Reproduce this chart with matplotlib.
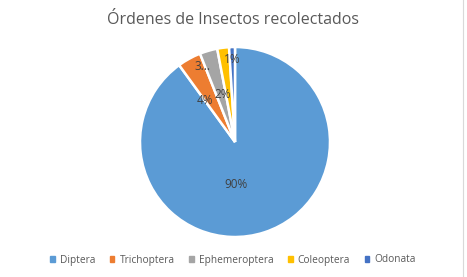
import matplotlib.pyplot as plt
import numpy as np

# Data
orders = ['Diptera', 'Trichoptera', 'Ephemeroptera', 'Coleoptera', 'Odonata']
values = [90, 4, 3, 2, 1]
labels = ['90%', '4%', '3...', '2%', '1%']
colors = ['#5B9BD5', '#ED7D31', '#A5A5A5', '#FFC000', '#4472C4']

plt.rcParams['font.family'] = ['Open Sans', 'DejaVu Sans']

fig = plt.figure(figsize=(4.67, 2.77), dpi=100)
ax = fig.add_axes([0.0, 0.0, 1.0, 1.0])

# pie placed in pixel coordinates (y measured from bottom)
cx, cy, r = 235, 277 - 142, 95
wedges, _ = ax.pie(values, colors=colors, startangle=90, counterclock=False,
                   center=(cx, cy), radius=r, frame=True,
                   wedgeprops=dict(edgecolor='white', linewidth=1.8))
ax.set_xlim(0, 467)
ax.set_ylim(0, 277)
ax.set_aspect('equal')
ax.axis('off')

# label positions (fraction of radius, angle offset in degrees)
dists = [0.45, 0.54, 0.86, 0.52, 0.87]
offsets = [-16, 7, 7, 7, 0]
total = sum(values)
cum = 0
for v, lab, d, off in zip(values, labels, dists, offsets):
    mid = 90 - (cum + v / 2) / total * 360 + off
    cum += v
    a = np.deg2rad(mid)
    ax.text(cx + d * r * np.cos(a), cy + d * r * np.sin(a), lab,
            ha='center', va='center', fontsize=8.5, color='#404040')

ax.text(233, 277 - 20, 'Órdenes de Insectos recolectados', ha='center', va='center',
        fontsize=11.5, color='#595959')

# legend
handles = [plt.Rectangle((0, 0), 1, 1, color=c) for c in colors]
fig.legend(handles, orders, loc='center', bbox_to_anchor=(233 / 467, 1 - 260 / 277),
           ncol=5, frameon=False, fontsize=7.3, handlelength=0.45, handleheight=0.45,
           columnspacing=1.45, handletextpad=0.5, labelcolor='#595959')

# faint chart frame edge on the right
fig.add_artist(plt.Line2D([463 / 467, 463 / 467], [0, 1], color='#d9d9d9', lw=0.8))

fig.savefig('out.png', dpi=100, facecolor='white')
